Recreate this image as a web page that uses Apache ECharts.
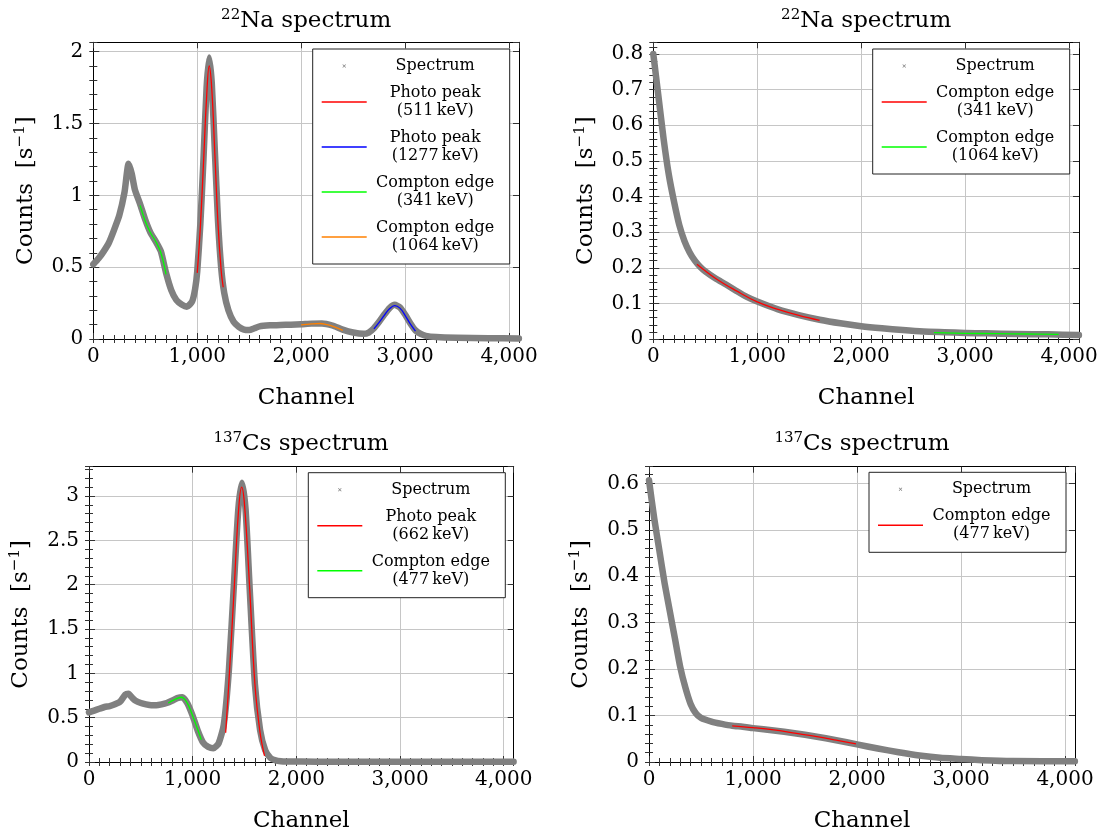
<!DOCTYPE html>
<html>
<head>
<meta charset="utf-8">
<script src="https://cdn.jsdelivr.net/npm/echarts@6/dist/echarts.min.js"></script>
<style>
html,body{margin:0;padding:0;background:#fff;}
#wrap{position:relative;width:1101px;height:838px;overflow:hidden;}
.c{position:absolute;}
</style>
</head>
<body>
<div id="wrap">
  <div id="c1" class="c" style="left:0;top:0;width:550px;height:420px"></div>
  <div id="c2" class="c" style="left:550px;top:0;width:551px;height:420px"></div>
  <div id="c3" class="c" style="left:0;top:420px;width:550px;height:418px"></div>
  <div id="c4" class="c" style="left:550px;top:420px;width:551px;height:418px"></div>
</div>
<script>
// ---------------- DATA ----------------
// Panel 1: 22Na spectrum (with photo peaks)
const na1Channel = [0,50,100,150,200,250,300,340,370,400,450,500,550,600,650,700,750,800,850,900,950,980,1000,1030,1060,1090,1115,1140,1170,1200,1230,1260,1300,1350,1400,1450,1500,1550,1600,1700,1800,1900,2000,2100,2200,2300,2400,2500,2600,2650,2700,2750,2800,2850,2900,2950,3000,3050,3100,3150,3200,3300,3500,3800,4095];
const na1Counts  = [0.52,0.56,0.61,0.67,0.76,0.86,1.02,1.22,1.15,1.04,0.94,0.83,0.74,0.68,0.61,0.46,0.34,0.27,0.24,0.225,0.26,0.35,0.47,0.80,1.25,1.75,1.96,1.78,1.30,0.82,0.50,0.32,0.20,0.12,0.085,0.066,0.063,0.075,0.088,0.095,0.098,0.100,0.103,0.107,0.108,0.094,0.065,0.045,0.036,0.045,0.075,0.12,0.17,0.215,0.238,0.22,0.17,0.11,0.06,0.035,0.022,0.014,0.009,0.006,0.004];
const na1Peak511Channel  = [1000,1030,1060,1090,1115,1140,1170,1200,1230,1250];
const na1Peak511Counts   = [0.46,0.78,1.22,1.68,1.90,1.74,1.28,0.80,0.48,0.36];
const na1Peak1277Channel = [2700,2750,2800,2850,2900,2950,3000,3050,3100];
const na1Peak1277Counts  = [0.07,0.115,0.165,0.21,0.232,0.215,0.165,0.105,0.055];
const na1Edge341Channel  = [450,500,550,600,650,700];
const na1Edge341Counts   = [0.93,0.82,0.74,0.68,0.60,0.45];
const na1Edge1064Channel = [2000,2100,2180,2250,2320,2400];
const na1Edge1064Counts  = [0.098,0.105,0.108,0.100,0.085,0.06];

// Panel 2: 22Na spectrum (Compton part)
const na2Channel = [0,25,50,100,150,200,250,300,350,400,450,500,600,700,800,900,1000,1200,1400,1600,1800,2000,2200,2400,2600,2800,3000,3200,3500,3800,4095];
const na2Counts  = [0.80,0.74,0.68,0.56,0.46,0.385,0.32,0.275,0.243,0.22,0.203,0.19,0.17,0.153,0.135,0.118,0.105,0.083,0.067,0.054,0.044,0.036,0.030,0.025,0.021,0.019,0.017,0.016,0.014,0.013,0.011];
const na2Edge341Channel  = [420,600,800,1000,1200,1400,1600];
const na2Edge341Counts   = [0.21,0.17,0.135,0.104,0.083,0.066,0.052];
const na2Edge1064Channel = [2700,3000,3300,3600,3900];
const na2Edge1064Counts  = [0.018,0.016,0.015,0.014,0.013];

// Panel 3: 137Cs spectrum
const cs1Channel = [0,50,100,150,200,250,300,350,380,420,450,500,550,600,650,700,750,800,850,900,950,1000,1050,1100,1150,1200,1250,1300,1350,1400,1440,1475,1510,1550,1600,1650,1700,1750,1800,1850,1900,2200,2600,3000,3500,4095];
const cs1Counts  = [0.56,0.58,0.60,0.62,0.63,0.65,0.68,0.76,0.77,0.72,0.69,0.665,0.65,0.64,0.64,0.65,0.665,0.69,0.72,0.73,0.66,0.52,0.35,0.22,0.17,0.155,0.21,0.42,1.05,2.05,2.85,3.15,2.85,1.95,0.88,0.36,0.13,0.045,0.018,0.008,0.005,0.004,0.003,0.003,0.002,0.002];
const cs1Peak662Channel = [1318,1350,1400,1440,1472,1500,1550,1600,1650,1693];
const cs1Peak662Counts  = [0.33,0.92,1.95,2.8,3.1,2.9,1.95,0.88,0.33,0.07];
const cs1Edge477Channel = [764,820,888,940,1000,1050,1083];
const cs1Edge477Counts  = [0.665,0.70,0.73,0.68,0.52,0.36,0.25];

// Panel 4: 137Cs spectrum (Compton part)
const cs2Channel = [0,50,100,150,200,250,300,350,400,450,500,600,700,800,900,1000,1200,1400,1600,1800,2000,2200,2400,2600,2800,3000,3200,3500,4095];
const cs2Counts  = [0.607,0.525,0.455,0.385,0.325,0.265,0.205,0.16,0.125,0.105,0.095,0.087,0.082,0.078,0.076,0.073,0.068,0.062,0.055,0.047,0.038,0.029,0.021,0.014,0.009,0.0065,0.004,0.002,0.0015];
const cs2Edge477Channel = [800,1000,1200,1400,1600,1800,1990];
const cs2Edge477Counts  = [0.078,0.074,0.069,0.062,0.055,0.047,0.039];

const xTickStep = 1000;
const xMinorStep = 100;
const xMax = 4096;

// ---------------- STYLE ----------------
const FONT = 'DejaVu Serif';
const SPEC_ICON = 'path://M0,0L0.01,0L0,0.01Z M36,36L35.99,36L36,35.99Z M14.7,13.5L22.5,21.3L21.3,22.5L13.5,14.7Z M21.3,13.5L22.5,14.7L14.7,22.5L13.5,21.3Z';
const LINE_ICON = 'path://M0,6.2L45,6.2L45,7.8L0,7.8Z';
const GRAY = '#808080';
const GRID_COL = '#c6c6c6';

function pts(ch, v) { return ch.map((c, i) => [c, v[i]]); }
function xFmt(v) { return v === 0 ? '0' : Number(v).toLocaleString('en-US'); }

function makeChart(id, cfg) {
  const chart = echarts.init(document.getElementById(id), null, {renderer: 'canvas'});
  const g = cfg.grid;
  const tickCol = '#333';
  const labelStyle = {color: '#000', fontFamily: FONT, fontSize: 20};
  const xAxes = [
    {type: 'value', min: 0, max: xMax, interval: xTickStep, position: 'bottom',
     axisLine: {show: true, onZero: false, lineStyle: {color: '#000', width: 1}},
     axisTick: {show: true, inside: true, length: 6, lineStyle: {color: tickCol}},
     axisLabel: Object.assign({show: true, formatter: xFmt, showMaxLabel: false, margin: 8}, labelStyle),
     splitLine: {show: true, lineStyle: {color: GRID_COL, width: 1}},
     name: 'Channel', nameLocation: 'middle', nameGap: 48,
     nameTextStyle: {color: '#000', fontFamily: FONT, fontSize: 23}},
    {type: 'value', min: 0, max: xMax, interval: xMinorStep, position: 'bottom',
     axisLine: {show: false}, axisTick: {show: true, inside: true, length: 4, lineStyle: {color: tickCol}},
     axisLabel: {show: false}, splitLine: {show: false}},
    {type: 'value', min: 0, max: xMax, interval: xTickStep, position: 'top',
     axisLine: {show: true, onZero: false, lineStyle: {color: '#000', width: 1}},
     axisTick: {show: true, inside: true, length: 6, lineStyle: {color: tickCol}},
     axisLabel: {show: false}, splitLine: {show: false}},
    {type: 'value', min: 0, max: xMax, interval: xMinorStep, position: 'top',
     axisLine: {show: false}, axisTick: {show: true, inside: true, length: 4, lineStyle: {color: tickCol}},
     axisLabel: {show: false}, splitLine: {show: false}}
  ];
  const yMinor = cfg.yInt / 5;
  const yAxes = [
    {type: 'value', min: 0, max: cfg.yMax, interval: cfg.yInt, position: 'left',
     axisLine: {show: true, onZero: false, lineStyle: {color: '#000', width: 1}},
     axisTick: {show: true, inside: true, length: 6, lineStyle: {color: tickCol}},
     axisLabel: Object.assign({show: true, showMaxLabel: false, margin: 10}, labelStyle),
     splitLine: {show: true, lineStyle: {color: GRID_COL, width: 1}},
     name: '{a|Counts  [s}{s|\u22121}{a|]}', nameLocation: 'middle', nameGap: 54,
     nameTextStyle: {color: '#000', fontFamily: FONT, fontSize: 23,
       rich: {a: {fontFamily: FONT, fontSize: 23, lineHeight: 27, color: '#000'},
              s: {fontFamily: FONT, fontSize: 15, lineHeight: 17, verticalAlign: 'top', color: '#000'}}}},
    {type: 'value', min: 0, max: cfg.yMax, interval: yMinor, position: 'left',
     axisLine: {show: false}, axisTick: {show: true, inside: true, length: 4, lineStyle: {color: tickCol}},
     axisLabel: {show: false}, splitLine: {show: false}},
    {type: 'value', min: 0, max: cfg.yMax, interval: cfg.yInt, position: 'right',
     axisLine: {show: true, onZero: false, lineStyle: {color: '#000', width: 1}},
     axisTick: {show: true, inside: true, length: 6, lineStyle: {color: tickCol}},
     axisLabel: {show: false}, splitLine: {show: false}},
    {type: 'value', min: 0, max: cfg.yMax, interval: yMinor, position: 'right',
     axisLine: {show: false}, axisTick: {show: true, inside: true, length: 4, lineStyle: {color: tickCol}},
     axisLabel: {show: false}, splitLine: {show: false}}
  ];
  const series = cfg.series.map(s => s.kind === 'spec' ? {
      type: 'line', name: 'Spectrum', data: pts(s.ch, s.v), symbol: 'none', smooth: 0.2, clip: false,
      lineStyle: {color: GRAY, width: 6.5, cap: 'round', join: 'round'}, itemStyle: {color: GRAY}, z: 2
    } : {
      type: 'line', name: s.name, data: pts(s.ch, s.v), symbol: 'none', smooth: 0.4,
      lineStyle: {color: s.color, width: 1.3}, itemStyle: {color: s.color}, z: 3
    });
  const legendData = cfg.series.map(s => s.kind === 'spec'
      ? {name: 'Spectrum', icon: SPEC_ICON, itemStyle: {color: GRAY}}
      : {name: s.name, icon: LINE_ICON, itemStyle: {color: s.color, borderWidth: 0}});
  chart.setOption({
    animation: false,
    grid: {left: g.left, top: g.top, width: g.width, height: g.height, containLabel: false},
    xAxis: xAxes,
    yAxis: yAxes,
    legend: {
      orient: 'vertical', left: cfg.legendLeft, top: cfg.legendTop,
      itemWidth: 45, itemHeight: 14, itemGap: 9,
      padding: [8, 11, 9, 9], borderColor: '#222', borderWidth: 1, backgroundColor: '#fff',
      selectedMode: false, data: legendData,
      formatter: n => n.split('\n').map(t => '{c|' + t + '}').join('\n'),
      textStyle: {color: '#000', fontFamily: FONT, fontSize: 16, lineHeight: 18,
        rich: {c: {width: 127, align: 'center', fontFamily: FONT, fontSize: 16, lineHeight: 18, color: '#000'}}}
    },
    graphic: [{
      type: 'text', x: g.left + g.width / 2, y: cfg.titleY + 1,
      style: {text: '{s|' + cfg.mass + '}{t|' + cfg.elem + ' spectrum}', align: 'center', verticalAlign: 'middle',
        rich: {s: {fontFamily: FONT, fontSize: 15, lineHeight: 19, verticalAlign: 'top', fill: '#000'},
               t: {fontFamily: FONT, fontSize: 23, lineHeight: 27, fill: '#000'}}}
    }],
    series: series
  });
  return chart;
}

makeChart('c1', {
  grid: {left: 93.3, top: 42.3, width: 425.7, height: 296.7}, yMax: 2.065, yInt: 0.5,
  legendLeft: 312.7, legendTop: 49, titleY: 20.3, mass: '22', elem: 'Na',
  series: [
    {kind: 'spec', ch: na1Channel, v: na1Counts},
    {name: 'Photo peak\n(511\u2009keV)', ch: na1Peak511Channel, v: na1Peak511Counts, color: '#ff0000'},
    {name: 'Photo peak\n(1277\u2009keV)', ch: na1Peak1277Channel, v: na1Peak1277Counts, color: '#0000ff'},
    {name: 'Compton edge\n(341\u2009keV)', ch: na1Edge341Channel, v: na1Edge341Counts, color: '#00ff00'},
    {name: 'Compton edge\n(1064\u2009keV)', ch: na1Edge1064Channel, v: na1Edge1064Counts, color: '#ff8000'}
  ]
});
makeChart('c2', {
  grid: {left: 103.3, top: 42.3, width: 425.7, height: 296.7}, yMax: 0.833, yInt: 0.1,
  legendLeft: 322.7, legendTop: 49, titleY: 20.3, mass: '22', elem: 'Na',
  series: [
    {kind: 'spec', ch: na2Channel, v: na2Counts},
    {name: 'Compton edge\n(341\u2009keV)', ch: na2Edge341Channel, v: na2Edge341Counts, color: '#ff0000'},
    {name: 'Compton edge\n(1064\u2009keV)', ch: na2Edge1064Channel, v: na2Edge1064Counts, color: '#00ff00'}
  ]
});
makeChart('c3', {
  grid: {left: 88.3, top: 46.7, width: 425.4, height: 295.6}, yMax: 3.33, yInt: 0.5,
  legendLeft: 308.3, legendTop: 52.7, titleY: 23.3, mass: '137', elem: 'Cs',
  series: [
    {kind: 'spec', ch: cs1Channel, v: cs1Counts},
    {name: 'Photo peak\n(662\u2009keV)', ch: cs1Peak662Channel, v: cs1Peak662Counts, color: '#ff0000'},
    {name: 'Compton edge\n(477\u2009keV)', ch: cs1Edge477Channel, v: cs1Edge477Counts, color: '#00ff00'}
  ]
});
makeChart('c4', {
  grid: {left: 99, top: 46.7, width: 426, height: 295.6}, yMax: 0.636, yInt: 0.1,
  legendLeft: 319, legendTop: 52.3, titleY: 23.3, mass: '137', elem: 'Cs',
  series: [
    {kind: 'spec', ch: cs2Channel, v: cs2Counts},
    {name: 'Compton edge\n(477\u2009keV)', ch: cs2Edge477Channel, v: cs2Edge477Counts, color: '#ff0000'}
  ]
});
</script>
</body>
</html>
